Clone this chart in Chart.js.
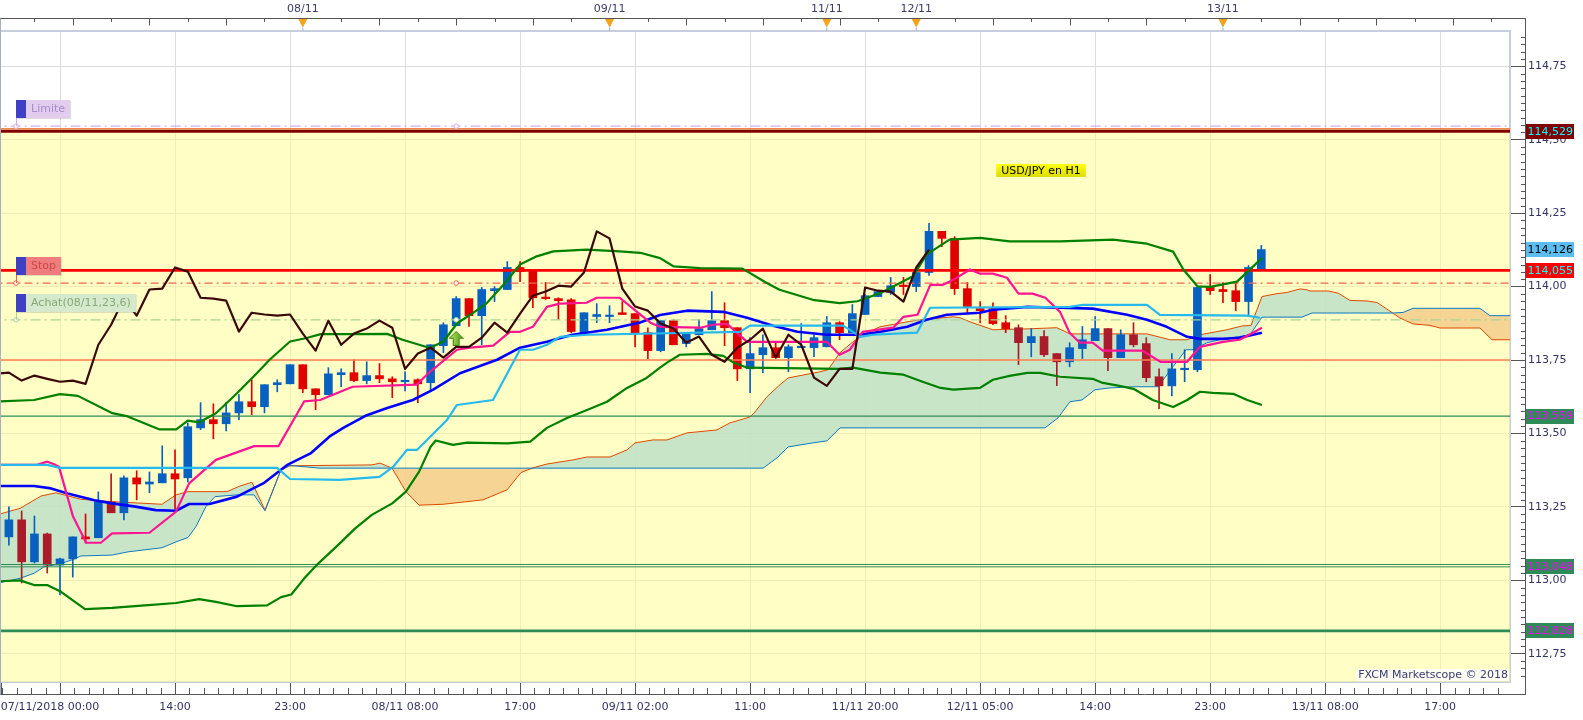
<!DOCTYPE html>
<html>
<head>
<meta charset="utf-8">
<title>USD/JPY H1</title>
<script src="https://cdn.jsdelivr.net/npm/chart.js@4.4.1/dist/chart.umd.min.js"></script>
<style>
  html, body { margin: 0; padding: 0; background: #fff; }
  #wrap { width: 1583px; height: 720px; }
</style>
</head>
<body>
<div id="wrap"><canvas id="chart" width="1583" height="720"></canvas></div>
<script>
// hourly bars, index 0 = 07/11/2018 00:00
const barOpen = [113.209,113.148,113.206,113.063,113.158,113.052,113.073,113.148,113.145,113.267,
  113.230,113.349,113.328,113.332,113.363,113.349,113.519,113.547,113.533,113.570,
  113.608,113.591,113.666,113.669,113.734,113.652,113.632,113.700,113.707,113.680,
  113.697,113.686,113.676,113.683,113.673,113.799,113.867,113.959,113.901,113.986,
  113.990,114.065,114.055,113.962,113.959,113.955,113.843,113.898,113.898,113.911,
  113.908,113.843,113.782,113.884,113.806,113.836,113.853,113.884,113.860,113.720,
  113.768,113.792,113.758,113.792,113.792,113.795,113.877,113.843,113.905,113.966,
  113.980,114.003,114.000,114.048,114.188,114.164,113.993,113.925,113.925,113.877,
  113.860,113.809,113.830,113.772,113.744,113.789,113.816,113.857,113.758,113.836,
  113.806,113.693,113.662,113.717,113.717,113.997,113.990,113.986,113.949,114.061];
const barHigh = [113.223,113.250,113.236,113.219,113.161,113.076,113.148,113.226,113.301,113.363,
  113.356,113.373,113.369,113.458,113.444,113.536,113.605,113.601,113.605,113.632,
  113.683,113.666,113.683,113.734,113.734,113.652,113.724,113.720,113.751,113.744,
  113.738,113.693,113.710,113.686,113.802,113.877,113.966,113.959,113.997,114.000,
  114.085,114.085,114.058,114.014,113.962,113.959,113.911,113.942,113.935,113.949,
  113.908,113.860,113.884,113.888,113.840,113.888,113.983,113.945,113.860,113.826,
  113.836,113.812,113.802,113.874,113.836,113.898,113.881,113.939,113.973,113.983,
  114.031,114.031,114.048,114.215,114.188,114.170,114.014,113.949,113.945,113.901,
  113.870,113.857,113.850,113.772,113.809,113.864,113.898,113.857,113.853,113.877,
  113.826,113.720,113.772,113.785,113.997,114.041,114.014,114.014,114.072,114.140];
const barLow = [113.138,113.120,112.991,113.059,113.025,112.950,113.011,113.127,113.145,113.230,
  113.206,113.274,113.298,113.332,113.243,113.335,113.513,113.482,113.509,113.547,
  113.564,113.570,113.642,113.669,113.639,113.581,113.632,113.659,113.676,113.669,
  113.673,113.622,113.645,113.605,113.642,113.775,113.867,113.864,113.802,113.949,
  113.990,114.017,113.928,113.956,113.888,113.843,113.836,113.877,113.877,113.905,
  113.795,113.755,113.778,113.802,113.795,113.836,113.853,113.799,113.680,113.639,
  113.707,113.758,113.710,113.792,113.761,113.795,113.819,113.843,113.905,113.966,
  113.973,113.973,113.983,114.038,114.136,113.973,113.911,113.877,113.870,113.843,
  113.734,113.761,113.761,113.663,113.727,113.755,113.816,113.714,113.758,113.795,
  113.676,113.584,113.628,113.676,113.710,113.973,113.945,113.918,113.905,114.061];
const barClose = [113.148,113.206,113.063,113.158,113.052,113.073,113.148,113.141,113.267,113.230,
  113.349,113.328,113.335,113.363,113.345,113.523,113.547,113.533,113.570,113.608,
  113.591,113.666,113.673,113.734,113.652,113.632,113.703,113.707,113.680,113.697,
  113.686,113.676,113.680,113.669,113.802,113.870,113.959,113.901,113.990,113.993,
  114.065,114.051,113.962,113.959,113.952,113.847,113.911,113.905,113.901,113.905,
  113.840,113.782,113.884,113.802,113.840,113.857,113.884,113.860,113.720,113.772,
  113.792,113.758,113.795,113.795,113.826,113.877,113.843,113.908,113.969,113.983,
  114.003,114.000,114.048,114.188,114.164,113.993,113.932,113.918,113.874,113.857,
  113.809,113.830,113.768,113.744,113.792,113.819,113.857,113.758,113.836,113.802,
  113.690,113.662,113.720,113.720,113.997,113.986,113.983,113.949,114.065,114.126];

// bearish bars sitting inside the cloud are drawn darker
const barsInCloud = [0, 2, 4, 9, 80, 82, 83, 87, 89, 90, 91];

// indicator lines as [bar index, price]
const bbUpper = [[0.3,113.609],[2.97,113.614],[5.0,113.634],[6.4,113.628],[9.1,113.569],[10.3,113.558],[12.75,113.514],[14.1,113.514],[15.0,113.544],[15.9,113.538],[17.2,113.569],[18.85,113.637],[20.4,113.705],[21.4,113.751],[23.0,113.813],[24.3,113.825],[25.4,113.838],[27.9,113.838],[30.6,113.839],[31.8,113.819],[33.95,113.791],[35.0,113.813],[36.1,113.876],[37.1,113.904],[38.4,113.944],[39.7,114.006],[41.0,114.075],[42.3,114.103],[43.6,114.120],[46.2,114.126],[48.8,114.120],[50.4,114.115],[51.95,114.097],[53.0,114.069],[55.1,114.063],[58.4,114.061],[60.3,114.012],[61.3,113.989],[63.9,113.955],[66.0,113.944],[67.4,113.950],[69.2,113.978],[71.75,114.035],[72.8,114.109],[74.6,114.160],[76.99,114.166],[79.3,114.154],[83.25,114.154],[87.4,114.160],[90.05,114.146],[92.1,114.119],[92.9,114.058],[94.0,114.001],[95.0,113.999],[97.1,114.017],[99.05,114.097]];
const bbLower = [[0.3,112.997],[1.87,113.000],[2.97,112.984],[4.0,112.984],[5.08,112.961],[6.96,112.902],[9.07,112.906],[11.65,112.915],[14.08,112.923],[15.88,112.936],[17.2,112.927],[18.85,112.912],[21.2,112.915],[22.3,112.943],[23.1,112.952],[24.1,113.006],[25.2,113.057],[26.75,113.120],[28.1,113.177],[29.4,113.223],[31.0,113.262],[32.07,113.302],[33.1,113.370],[34.0,113.455],[34.4,113.476],[35.75,113.461],[36.85,113.469],[40.0,113.466],[41.8,113.472],[43.1,113.519],[44.67,113.553],[46.24,113.580],[47.8,113.608],[49.37,113.655],[50.9,113.689],[51.95,113.724],[52.5,113.741],[53.5,113.768],[55.6,113.771],[56.9,113.764],[57.7,113.741],[58.8,113.724],[66.0,113.720],[67.05,113.724],[69.2,113.707],[71.0,113.700],[72.5,113.676],[73.9,113.655],[74.9,113.649],[76.99,113.655],[78.0,113.683],[79.3,113.696],[80.7,113.706],[81.7,113.706],[83.25,113.693],[85.8,113.686],[86.6,113.672],[87.9,113.662],[89.0,113.652],[90.5,113.614],[92.1,113.590],[93.2,113.614],[94.2,113.642],[95.2,113.638],[96.8,113.635],[97.9,113.614],[99.05,113.597]];
const movingAvg = [[0.3,113.321],[2.97,113.321],[4.3,113.313],[5.6,113.296],[7.7,113.273],[9.07,113.262],[10.9,113.251],[12.5,113.239],[14.08,113.237],[15.1,113.260],[16.7,113.260],[18.85,113.285],[20.9,113.330],[22.75,113.392],[24.6,113.432],[26.1,113.490],[27.2,113.520],[28.9,113.560],[30.6,113.587],[32.6,113.614],[34.2,113.649],[36.3,113.705],[39.2,113.751],[41.0,113.792],[43.1,113.812],[45.1,113.836],[47.8,113.853],[50.4,113.878],[51.95,113.903],[54.06,113.918],[56.9,113.914],[58.76,113.894],[60.8,113.867],[62.7,113.846],[65.0,113.836],[67.6,113.836],[69.2,113.846],[71.3,113.863],[72.8,113.887],[74.4,113.904],[76.99,113.911],[78.0,113.921],[80.7,113.931],[83.25,113.928],[85.8,113.925],[88.5,113.904],[90.05,113.887],[91.6,113.863],[93.2,113.829],[94.2,113.822],[96.0,113.822],[97.3,113.826],[98.35,113.836],[99.05,113.843]];
const tenkan = [[0.3,113.393],[3.2,113.393],[4.0,113.404],[4.5,113.396],[4.92,113.387],[6.02,113.217],[7.05,113.128],[8.2,113.128],[9.07,113.160],[12.0,113.162],[14.08,113.234],[15.1,113.330],[17.2,113.410],[20.2,113.457],[22.1,113.457],[24.1,113.609],[25.35,113.614],[27.9,113.659],[32.9,113.666],[33.95,113.710],[36.06,113.785],[37.08,113.792],[38.9,113.799],[40.2,113.846],[41.0,113.846],[42.0,113.863],[43.1,113.931],[44.1,113.942],[46.2,113.945],[47.0,113.962],[48.8,113.962],[50.15,113.914],[51.2,113.877],[51.95,113.863],[55.1,113.860],[56.1,113.870],[57.2,113.873],[58.76,113.812],[65.0,113.812],[66.0,113.768],[66.8,113.785],[67.8,113.846],[70.2,113.860],[71.0,113.897],[72.1,113.904],[73.1,114.006],[74.1,114.006],[74.9,114.023],[76.2,114.058],[77.0,114.044],[78.0,114.044],[79.1,114.030],[80.0,113.976],[81.1,113.976],[82.1,113.962],[83.25,113.914],[84.0,113.843],[84.8,113.809],[85.8,113.809],[86.6,113.782],[89.7,113.782],[91.1,113.744],[93.2,113.744],[94.2,113.795],[96.0,113.812],[97.3,113.819],[98.35,113.843],[99.05,113.860]];
const kijun = [[0.3,113.393],[4.0,113.393],[5.0,113.383],[21.98,113.383],[23.0,113.345],[26.9,113.342],[30.0,113.352],[31.06,113.386],[32.15,113.444],[32.93,113.444],[35.28,113.546],[36.06,113.597],[38.88,113.614],[40.99,113.785],[42.01,113.785],[43.11,113.802],[44.12,113.829],[46.24,113.836],[58.2,113.846],[59.0,113.867],[66.27,113.867],[67.05,113.846],[67.6,113.829],[68.62,113.836],[72.06,113.843],[73.08,113.928],[84.03,113.931],[85.05,113.938],[90.05,113.938],[91.07,113.904],[97.88,113.901],[98.9,113.894]];
const spanA = [[0.3,113.226],[1.87,113.245],[3.51,113.287],[4.69,113.298],[6.64,113.276],[9.07,113.268],[12.98,113.259],[14.08,113.291],[15.02,113.302],[18.07,113.302],[19.08,113.321],[20.02,113.334],[21.04,113.239],[22.29,113.376],[23.0,113.390],[29.41,113.393],[30.04,113.399],[30.98,113.382],[32.07,113.302],[33.09,113.256],[34.97,113.259],[38.1,113.274],[39.98,113.308],[41.07,113.367],[42.01,113.383],[43.11,113.396],[45.14,113.410],[46.24,113.420],[48.04,113.420],[49.37,113.444],[50.0,113.468],[51.4,113.478],[52.5,113.478],[54.06,113.502],[56.41,113.512],[57.42,113.536],[58.99,113.556],[59.38,113.573],[60.32,113.625],[61.34,113.666],[61.97,113.689],[64.47,113.710],[65.1,113.717],[66.03,113.775],[67.05,113.812],[68.14,113.843],[69.16,113.863],[71.28,113.880],[72.29,113.887],[74.88,113.897],[75.42,113.894],[76.21,113.880],[78.0,113.853],[80.67,113.856],[83.0,113.860],[84.03,113.839],[90.05,113.839],[91.85,113.819],[93.19,113.819],[94.2,113.836],[96.31,113.853],[97.5,113.866],[98.2,113.868],[99.05,113.966],[100.23,113.976],[101.01,113.980],[102.03,113.992],[102.58,113.989],[102.81,113.985],[104.22,113.985],[105.0,113.978],[105.94,113.953],[107.27,113.951],[108.05,113.946],[108.91,113.921],[109.85,113.893],[110.87,113.873],[112.2,113.868],[112.98,113.859],[116.11,113.859],[117.05,113.819],[119.5,113.819]];
const spanB = [[0.3,112.992],[1.87,113.007],[2.97,113.024],[3.75,113.046],[4.92,113.055],[6.02,113.071],[6.64,113.083],[9.07,113.086],[10.32,113.097],[12.98,113.111],[14.08,113.131],[15.02,113.146],[15.64,113.183],[16.42,113.251],[17.13,113.285],[18.85,113.291],[20.18,113.291],[21.04,113.237],[22.29,113.376],[23.0,113.391],[25.35,113.382],[60.01,113.382],[61.11,113.417],[61.97,113.454],[63.92,113.468],[65.02,113.475],[66.03,113.519],[82.07,113.519],[83.09,113.553],[84.03,113.608],[84.97,113.614],[85.99,113.649],[87.16,113.655],[88.96,113.659],[90.92,113.659],[92.09,113.727],[93.11,113.785],[93.66,113.785],[94.75,113.809],[95.77,113.819],[98.12,113.836],[99.05,113.896],[102.18,113.896],[102.97,113.910],[109.3,113.910],[110.09,113.912],[110.87,113.926],[116.11,113.926],[116.89,113.901],[119.5,113.901]];

// horizontal levels
const levelValues = [114.546, 114.537, 114.529, 114.055, 114.012, 113.887, 113.750, 113.559, 113.054, 113.046, 112.828];
const levelStyles = [
  { color: '#d4aef0', width: 1.2, dash: [10, 4, 2, 4] },
  { color: '#e8650f', width: 1.2, dash: [] },
  { color: '#800000', width: 3, dash: [] },
  { color: '#ff0000', width: 2.6, dash: [] },
  { color: '#f0644e', width: 1.2, dash: [8, 4, 2, 4] },
  { color: '#a6d596', width: 1.2, dash: [10, 4, 2, 4] },
  { color: '#ff7f50', width: 1.4, dash: [] },
  { color: '#2e8b57', width: 1.3, dash: [] },
  { color: '#2e8b57', width: 1, dash: [] },
  { color: '#2e8b57', width: 1, dash: [] },
  { color: '#2e8b57', width: 2.6, dash: [] }
];
const tagValues = [114.529, barClose[barClose.length - 1], 114.055, 113.559, 113.048, 112.828];
const tagStyles = [['#800000', '#00ffff'], ['#5bbdf0', '#000000'], ['#ff0000', '#00ffff'],
  ['#2e8b57', '#ff00ff'], ['#2e8b57', '#ff00ff'], ['#2e8b57', '#ff00ff']];

// axis labels
const xTickIdx = [0.44, 4.22, 5, 14, 23, 32, 41, 50, 59, 68, 77, 86, 95, 104, 113];
const xTickText = ['', '07/11/2018 00:00', '', '14:00', '23:00', '08/11 08:00', '17:00', '09/11 02:00', '11:00',
  '11/11 20:00', '12/11 05:00', '14:00', '23:00', '13/11 08:00', '17:00'];
const dayIdx = [24, 48, 65, 72, 96];
const dayText = ['08/11', '09/11', '11/11', '12/11', '13/11'];
const yTickVals = [112.75, 113.00, 113.25, 113.50, 113.75, 114.00, 114.25, 114.50, 114.75];

const entryMark = [36, 113.824];

const X_MIN = 0.305, X_MAX = 118.46, Y_MIN = 112.654, Y_MAX = 114.870;
const BLUE = '#0860c0', RED = '#e00000', DARK_RED = '#aa1c2a';

function pts(arr) { return arr.map(p => ({ x: p[0], y: p[1] })); }
function flat(v) { return [{ x: -2, y: v }, { x: 122, y: v }]; }
function fmt(v, d) { return v.toFixed(d).replace('.', ','); }

function barColor(i) {
  if (barClose[i] >= barOpen[i]) return BLUE;
  return barsInCloud.includes(i) ? DARK_RED : RED;
}

function makeArrow() {
  const c = document.createElement('canvas');
  c.width = 15; c.height = 15;
  const g = c.getContext('2d');
  const grad = g.createLinearGradient(0, 0, 15, 0);
  grad.addColorStop(0, '#bde865'); grad.addColorStop(1, '#4c9618');
  g.fillStyle = grad; g.strokeStyle = '#3e7d12'; g.lineWidth = 1;
  g.beginPath();
  g.moveTo(7.5, 0.5); g.lineTo(14.5, 7.5); g.lineTo(10.5, 7.5); g.lineTo(10.5, 14.5);
  g.lineTo(4.5, 14.5); g.lineTo(4.5, 7.5); g.lineTo(0.5, 7.5); g.closePath();
  g.fill(); g.stroke();
  return c;
}

function lineSet(data, color, width, order) {
  return { type: 'line', data: pts(data), borderColor: color, borderWidth: width, pointRadius: 0,
    fill: false, order: order, borderJoinStyle: 'round' };
}

const datasets = [];
// 0: pale yellow zone under the dark red level
datasets.push({ type: 'line', data: flat(114.529), borderWidth: 0, pointRadius: 0, fill: 'start',
  backgroundColor: 'rgba(255,255,140,0.5)', order: 100 });
// 1-2: cloud
datasets.push({ type: 'line', data: pts(spanA), borderColor: '#e04800', borderWidth: 1, pointRadius: 0,
  fill: { target: 2, above: 'rgba(186,222,200,0.8)', below: 'rgba(244,205,140,0.85)' }, order: 90 });
datasets.push({ type: 'line', data: pts(spanB), borderColor: '#0a78c8', borderWidth: 1, pointRadius: 0, fill: false, order: 89 });
// candles
datasets.push({ type: 'bar', data: barLow.map((l, i) => ({ x: i, y: [l, barHigh[i]] })),
  backgroundColor: barLow.map((_, i) => barColor(i)), barThickness: 1, grouped: false, minBarLength: 1, order: 70 });
datasets.push({ type: 'bar', data: barOpen.map((o, i) => ({ x: i, y: [o, barClose[i]] })),
  backgroundColor: barOpen.map((_, i) => barColor(i)), barThickness: 8, grouped: false, minBarLength: 1.5, order: 69 });
// levels
levelValues.forEach((v, k) => {
  const s = levelStyles[k];
  datasets.push({ type: 'line', data: flat(v), borderColor: s.color, borderWidth: s.width, borderDash: s.dash,
    pointRadius: 0, fill: false, order: 50 });
});
// indicators
datasets.push(lineSet(bbUpper, '#008000', 2.2, 40));
datasets.push(lineSet(bbLower, '#008000', 2.2, 40));
datasets.push(lineSet(movingAvg, '#0000ff', 2.6, 38));
datasets.push(lineSet(tenkan, '#ff1493', 2.2, 36));
datasets.push(lineSet(kijun, '#25b9f0', 2.2, 34));
// lagging line: the closes drawn 26 bars back
datasets.push({ type: 'line', data: barClose.slice(26).map((c, i) => ({ x: i, y: c })), borderColor: '#3a0808',
  borderWidth: 2.2, pointRadius: 0, fill: false, order: 32, borderJoinStyle: 'round' });
// order markers on the dashed levels
datasets.push({ type: 'line', showLine: false, order: 10,
  data: [{ x: 1.56, y: 114.546 }, { x: 36, y: 114.546 }, { x: 1.56, y: 114.012 }, { x: 36, y: 114.012 }, { x: 1.56, y: 113.887 }, { x: 36, y: 113.887 }],
  pointRadius: 2.3, pointBorderWidth: 1, pointBackgroundColor: '#fff8f0',
  pointBorderColor: ['#d4aef0', '#d4aef0', '#f0644e', '#f0644e', '#a6d596', '#a6d596'] });
datasets.push({ type: 'line', showLine: false, order: 5, data: [{ x: entryMark[0], y: entryMark[1] }],
  pointStyle: makeArrow(), pointRadius: 7 });

function drawOrderLabel(ctx, yScale, value, text, bg, fg, stroke) {
  const py = yScale.getPixelForValue(value);
  const top = Math.round(py - 26);
  ctx.font = "11px 'DejaVu Sans'";
  const w = ctx.measureText(text).width;
  const right = 31 + w + 5;
  ctx.strokeStyle = stroke; ctx.lineWidth = 1;
  ctx.beginPath(); ctx.moveTo(16.5, top + 18); ctx.lineTo(16.5, py); ctx.stroke();
  ctx.fillStyle = 'rgba(120,120,120,0.25)';
  ctx.fillRect(17, top + 1, right - 16, 18);
  ctx.fillStyle = bg; ctx.fillRect(26, top, right - 26, 18);
  ctx.fillStyle = '#4040c4'; ctx.fillRect(16, top, 10, 18);
  ctx.fillStyle = fg; ctx.textAlign = 'left'; ctx.textBaseline = 'middle';
  ctx.fillText(text, 31, top + 9.5);
}

const decor = {
  id: 'decor',
  afterDraw(chart) {
    const ctx = chart.ctx;
    const x = chart.scales.x, y = chart.scales.y;
    const right = chart.chartArea.right, bottom = chart.chartArea.bottom;
    ctx.save();
    function seg(x1, y1, x2, y2) { ctx.beginPath(); ctx.moveTo(x1, y1); ctx.lineTo(x2, y2); ctx.stroke(); }

    // axis lines
    ctx.strokeStyle = '#555'; ctx.lineWidth = 1;
    seg(0, 18.5, right + 16, 18.5);
    seg(0, bottom + 12.5, right + 16, bottom + 12.5);
    seg(right + 15.5, 18.5, right + 15.5, bottom + 12.5);
    ctx.strokeStyle = '#a8b0c0';
    seg(0.5, 18.5, 0.5, bottom + 12.5);

    // top axis ticks every 3 bars
    ctx.strokeStyle = '#555';
    for (let i = 0; i <= X_MAX; i += 3) {
      const px = Math.round(x.getPixelForValue(i)) + 0.5;
      if (px < 0) continue;
      seg(px, 18.5, px, 18.5 + (i % 6 === 0 ? 7 : 3.5));
    }
    // bottom minor ticks
    for (let base = -4; base < X_MAX; base += 9) {
      for (let n = 1; n < 8; n++) {
        const v = base + n * 9 / 8;
        if (v < X_MIN || v > X_MAX) continue;
        const px = Math.round(x.getPixelForValue(v)) + 0.5;
        seg(px, bottom + 6, px, bottom + 12.5);
      }
    }
    // right minor ticks
    for (let k = Math.ceil(Y_MIN * 40); k <= Math.floor(Y_MAX * 40); k++) {
      if (k % 10 === 0) continue;
      const py = Math.round(y.getPixelForValue(k / 40)) + 0.5;
      seg(right + 11, py, right + 15.5, py);
    }
    // day markers
    dayIdx.forEach(d => {
      const px = x.getPixelForValue(d);
      ctx.fillStyle = '#f7a21b';
      ctx.beginPath(); ctx.moveTo(px - 4.5, 19); ctx.lineTo(px + 4.5, 19); ctx.lineTo(px, 27.5); ctx.closePath(); ctx.fill();
      ctx.strokeStyle = '#9db2cc';
      seg(px, 27.5, px, 31);
    });

    // price tags on the right axis
    ctx.font = "11px 'DejaVu Sans'";
    ctx.textAlign = 'left'; ctx.textBaseline = 'middle';
    tagValues.forEach((v, k) => {
      const py = y.getPixelForValue(v);
      ctx.fillStyle = tagStyles[k][0];
      ctx.fillRect(right + 16, Math.round(py - 7.5), 48, 15);
      ctx.fillStyle = tagStyles[k][1];
      ctx.fillText(fmt(v, 3), right + 17.5, py + 0.5);
    });

    // order labels on the left
    drawOrderLabel(ctx, y, 114.546, 'Limite', '#e2cdee', '#a88ccc', '#d4aef0');
    drawOrderLabel(ctx, y, 114.012, 'Stop', '#f07d7d', '#cc4848', '#f0644e');
    drawOrderLabel(ctx, y, 113.887, 'Achat(08/11,23,6)', '#d5e9cc', '#8aa87a', '#a6d596');

    // instrument caption
    const cap = 'USD/JPY en H1';
    const cw = ctx.measureText(cap).width + 10;
    const cx = 1041;
    const grad = ctx.createLinearGradient(0, 164, 0, 177);
    grad.addColorStop(0, '#ffff10'); grad.addColorStop(1, '#dcdc00');
    ctx.fillStyle = grad; ctx.fillRect(cx - cw / 2, 164, cw, 13);
    ctx.fillStyle = '#000'; ctx.textAlign = 'center';
    ctx.fillText(cap, cx, 171);

    // copyright
    const copy = 'FXCM Marketscope \u00a9 2018';
    const pw = ctx.measureText(copy).width;
    ctx.fillStyle = '#fdfdf4'; ctx.fillRect(right - pw - 4, bottom - 13, pw + 3, 12);
    ctx.fillStyle = '#3a3a70'; ctx.textAlign = 'right';
    ctx.fillText(copy, right - 2, bottom - 6.5);
    ctx.restore();
  }
};

Chart.defaults.font.family = "'DejaVu Sans', Verdana, sans-serif";
Chart.defaults.font.size = 11;
Chart.defaults.color = '#333366';

// keep the plot flush with the canvas edge
function noSidePadding(s) { s.paddingLeft = 0; s.paddingRight = 0; }

new Chart(document.getElementById('chart'), {
  type: 'line',
  data: { datasets: datasets },
  options: {
    responsive: false,
    devicePixelRatio: 1,
    animation: false,
    events: [],
    layout: { padding: 0, autoPadding: false },
    plugins: { legend: { display: false }, tooltip: { enabled: false } },
    scales: {
      x: {
        type: 'linear', position: 'bottom', min: X_MIN, max: X_MAX, offset: false,
        afterFit: s => { s.height = 38; noSidePadding(s); },
        afterBuildTicks: s => { s.ticks = xTickIdx.map(v => ({ value: v })); },
        grid: {
          offset: false, tickLength: 12,
          color: c => (c.tick && c.tick.value < 5) ? 'rgba(0,0,0,0)' : '#dcdcdc',
          tickColor: c => (c.tick && c.tick.value === 4.22) ? 'rgba(0,0,0,0)' : '#555'
        },
        border: { color: '#c6cedc', width: 2 },
        ticks: { autoSkip: false, maxRotation: 0, minRotation: 0, padding: 7, color: '#333366',
          callback: (v, i) => xTickText[i] }
      },
      xTop: {
        type: 'linear', position: 'top', min: X_MIN, max: X_MAX, offset: false,
        afterFit: s => { s.height = 31; noSidePadding(s); },
        afterBuildTicks: s => { s.ticks = dayIdx.map(v => ({ value: v })); },
        grid: { drawOnChartArea: false, drawTicks: false },
        border: { color: '#c6cedc', width: 2 },
        ticks: { autoSkip: false, maxRotation: 0, padding: 15, color: '#3b3b6b',
          callback: (v, i) => dayText[i] }
      },
      y: {
        type: 'linear', position: 'right', min: Y_MIN, max: Y_MAX,
        afterFit: s => { s.width = 73; },
        afterBuildTicks: s => { s.ticks = yTickVals.map(v => ({ value: v })); },
        grid: { color: '#dcdcdc', tickColor: '#555', tickLength: 15 },
        border: { color: '#c6cedc', width: 2 },
        ticks: { padding: 3, color: '#333366', callback: v => fmt(v, 2) }
      }
    }
  },
  plugins: [decor]
});
</script>
</body>
</html>
